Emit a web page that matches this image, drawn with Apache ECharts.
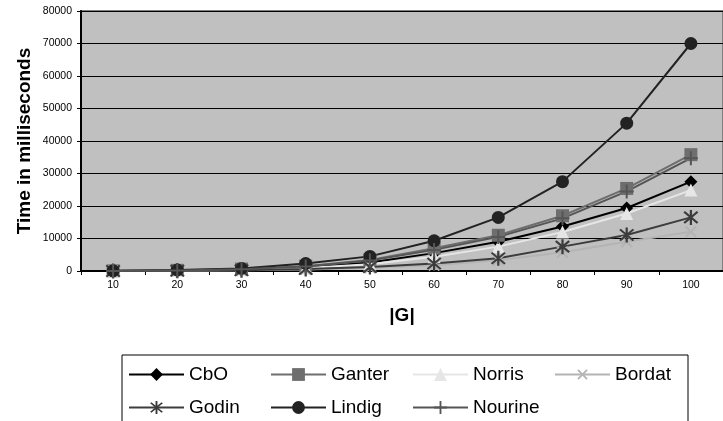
<!DOCTYPE html>
<html>
<head>
<meta charset="utf-8">
<script src="https://cdn.jsdelivr.net/npm/echarts@6/dist/echarts.min.js"></script>
<style>
  html, body { margin: 0; padding: 0; background: #ffffff; }
  #chart { width: 723px; height: 421px; }
</style>
</head>
<body>
<div id="chart"></div>
<script>
// |G| sizes on the x axis
const sizes = ['10', '20', '30', '40', '50', '60', '70', '80', '90', '100'];

// Running time in milliseconds per algorithm
const cbo     = [30, 150, 450, 1100, 2600, 5500, 9000, 13700, 19400, 27500];
const ganter  = [40, 200, 600, 1500, 3400, 7000, 11000, 17000, 25400, 35800];
const norris  = [20, 120, 350, 900, 2100, 4400, 7500, 12000, 17700, 24900];
const bordat  = [10, 60, 200, 450, 1000, 1800, 3300, 5800, 9000, 12100];
const godin   = [15, 80, 250, 600, 1200, 2300, 3900, 7500, 11100, 16500];
const lindig  = [60, 300, 800, 2300, 4500, 9300, 16500, 27500, 45500, 70000];
const nourine = [35, 180, 550, 1400, 3200, 6500, 10500, 16200, 24500, 34700];

const yTicks = { min: 0, max: 80000, step: 10000 };

// marker shapes
const plusPath = 'path://M-1,-7H1V-1H7V1H1V7H-1V1H-7V-1H-1Z';
const starPath = 'path://M-1,-8H1V8H-1Z M-6.7,-5.3L-5.3,-6.7L6.7,5.3L5.3,6.7Z M5.3,-6.7L6.7,-5.3L-5.3,6.7L-6.7,5.3Z';

function line(name, data, color, symbol, size, rotate) {
  return {
    name: name,
    type: 'line',
    data: data,
    symbol: symbol,
    symbolSize: size,
    symbolRotate: rotate || 0,
    showAllSymbol: true,
    lineStyle: { color: color, width: 2 },
    itemStyle: { color: color, borderWidth: 0 },
    emphasis: { disabled: true },
    z: 2
  };
}

const chart = echarts.init(document.getElementById('chart'), null, { renderer: 'canvas' });
chart.setOption({
  animation: false,
  backgroundColor: '#ffffff',
  textStyle: { fontFamily: 'Arial, "Liberation Sans", sans-serif' },
  grid: {
    left: 81, top: 11, width: 652, height: 260,
    show: true,
    backgroundColor: '#c0c0c0',
    borderColor: '#808080',
    borderWidth: 2
  },
  xAxis: {
    type: 'category',
    data: sizes,
    boundaryGap: true,
    name: '|G|',
    nameLocation: 'middle',
    nameGap: 35,
    nameTextStyle: { fontSize: 19, fontWeight: 'bold', color: '#000' },
    axisLine: { lineStyle: { color: '#000', width: 2 } },
    axisTick: { show: true, length: 4, lineStyle: { color: '#000', width: 1 } },
    axisLabel: { fontSize: 10.5, color: '#000', margin: 9 },
    splitLine: { show: false }
  },
  yAxis: {
    type: 'value',
    min: yTicks.min,
    max: yTicks.max,
    interval: yTicks.step,
    name: 'Time in milliseconds',
    nameLocation: 'middle',
    nameGap: 47,
    nameMoveOverlap: false,
    nameTextStyle: { fontSize: 19, fontWeight: 'bold', color: '#000' },
    axisLine: { show: true, lineStyle: { color: '#000', width: 2 } },
    axisTick: { show: true, length: 4, lineStyle: { color: '#000', width: 1 } },
    axisLabel: { fontSize: 10.5, color: '#000', margin: 9, formatter: v => String(v) },
    splitLine: { show: true, lineStyle: { color: '#000', width: 1 } }
  },
  legend: {
    left: 122,
    top: 355,
    width: 565,
    orient: 'horizontal',
    padding: [8, 2, 8, 6],
    borderColor: '#000',
    borderWidth: 1,
    itemWidth: 55,
    itemHeight: 16,
    itemGap: 10,
    textStyle: { fontSize: 19, color: '#000', width: 71, lineHeight: 23 },
    data: ['CbO', 'Ganter', 'Norris', 'Bordat', 'Godin', 'Lindig', 'Nourine']
  },
  series: [
    line('CbO', cbo, '#000000', 'diamond', 13),
    line('Ganter', ganter, '#6e6e6e', 'rect', 13),
    line('Norris', norris, '#e6e6e6', 'triangle', 13),
    line('Bordat', bordat, '#b4b4b4', plusPath, 15, 45),
    line('Godin', godin, '#3c3c3c', starPath, 15),
    line('Lindig', lindig, '#222222', 'circle', 13),
    line('Nourine', nourine, '#555555', plusPath, 14)
  ]
});
</script>
</body>
</html>
